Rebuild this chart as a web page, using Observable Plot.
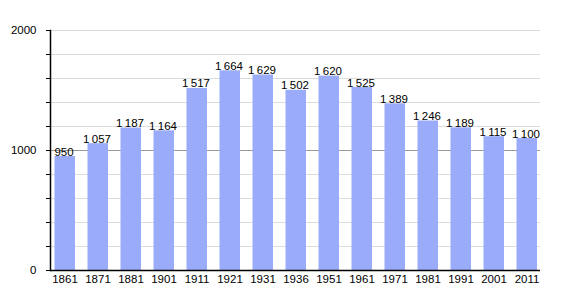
<!DOCTYPE html>
<html>
<head>
<meta charset="utf-8">
<script src="https://cdn.jsdelivr.net/npm/d3@7"></script>
<script src="https://cdn.jsdelivr.net/npm/@observablehq/plot@0.6"></script>
<style>
  html, body { margin: 0; padding: 0; background: #fff; }
  svg { font-family: "Liberation Sans", Arial, sans-serif; }
</style>
</head>
<body>
<div id="chart"></div>
<script>
const years = ["1861","1871","1881","1901","1911","1921","1931","1936","1951","1961","1971","1981","1991","2001","2011"];
const population = [950,1057,1187,1164,1517,1664,1629,1502,1620,1525,1389,1246,1189,1115,1100];
const majorTicks = [0, 1000, 2000];
const minorTicks = [200, 400, 600, 800, 1200, 1400, 1600, 1800, 2000];

const data = years.map((y, i) => ({year: y, value: population[i]}));
const fmt = v => v >= 1000 ? Math.floor(v / 1000) + "\u2009" + String(v % 1000).padStart(3, "0") : String(v);

const chart = Plot.plot({
  width: 570,
  height: 300,
  marginLeft: 50,
  marginRight: 30,
  marginTop: 30,
  marginBottom: 30,
  style: {fontSize: "11px", fontFamily: "Liberation Sans, Arial, sans-serif", background: "#fff"},
  x: {type: "band", domain: years, paddingInner: 0.37, paddingOuter: 0, label: null},
  y: {domain: [0, 2000], label: null},
  marks: [
    Plot.gridY(minorTicks, {stroke: "#dcdcdc", strokeOpacity: 1}),
    Plot.ruleY([1000], {stroke: "#999", strokeWidth: 1}),
    Plot.barY(data, {x: "year", y: "value", fill: "#9aabf9", insetLeft: 0.5, insetRight: 0}),
    Plot.text(data, {x: "year", y: "value", text: d => fmt(d.value), lineAnchor: "bottom", dy: -1, dx: -1, fill: "#000", fontSize: 11.5}),
    Plot.ruleY([0], {stroke: "#000", strokeWidth: 1.5}),
    Plot.frame({anchor: "left", stroke: "#000", strokeWidth: 1.5}),
    Plot.axisY(minorTicks.concat(majorTicks), {tickSize: 4, text: null, stroke: "#000"}),
    Plot.axisY(majorTicks, {tickSize: 0, tickPadding: 14, tickFormat: d => String(d), fill: "#000", fontSize: 11.5}),
    Plot.axisX({tickSize: 0, tickPadding: 4, fill: "#000", fontSize: 11.5})
  ]
});
document.getElementById("chart").appendChild(chart);
</script>
</body>
</html>
